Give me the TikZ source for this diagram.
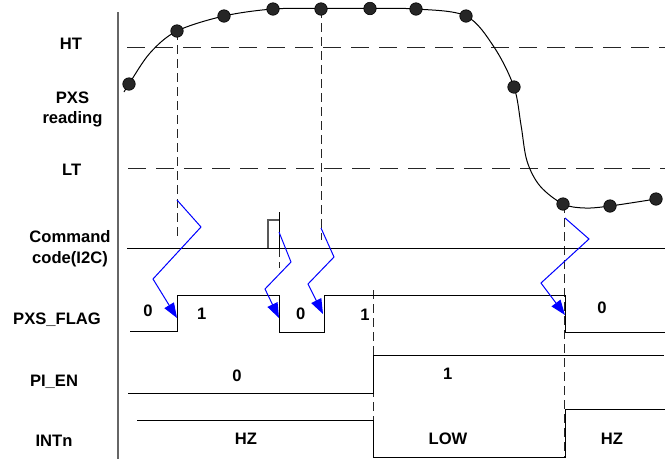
\documentclass[tikz,border=0pt]{standalone}
\usepackage{fontspec}
\setmainfont{Liberation Sans}
\usetikzlibrary{arrows.meta}
\tikzset{
  sig/.style={line width=1pt, black},
  thr/.style={line width=1pt, black!85, dash pattern=on 18pt off 10pt},
  guide/.style={line width=1pt, black!85, dash pattern=on 9pt off 5pt},
  trig/.style={blue, line width=1pt, line join=miter, -{Triangle[length=15pt,width=11pt]}},
  sample/.style={circle, fill=black!85, draw=black, line width=0.6pt, inner sep=0pt, minimum size=12.5pt},
  lbl/.style={font=\bfseries\fontsize{16.6}{20.5}\selectfont, anchor=base, inner sep=0pt},
}
\begin{document}
\begin{tikzpicture}[x=1pt,y=-1pt]
\useasboundingbox (0,0) rectangle (665,459);

% axis
\draw[line width=1.6pt, black!60] (118,12) -- (118,459);

% row labels
\node[lbl] (lht) at (71,49.3) {HT};
\node[lbl] (lpxs) at (72.5,103.3) {PXS};
\node[lbl] (lread) at (72.5,123.3) {reading};
\node[lbl] (llt) at (71.7,175) {LT};
\node[lbl] (lcmd) at (70,242.7) {Command};
\node[lbl] (lcode) at (70,263.7) {code(I2C)};
\node[lbl] (lflag) at (57,324) {PXS\_FLAG};
\node[lbl] (lpien) at (54,386) {PI\_EN};
\node[lbl] (lint) at (54,446.7) {INTn};

% thresholds
\draw[thr] (127,47) -- (665,47);
\draw[thr] (128,168) -- (665,168);

% sample points
\coordinate (d1) at (129,84);
\coordinate (d2) at (177,31);
\coordinate (d3) at (224,16);
\coordinate (d4) at (273,9);
\coordinate (d5) at (321,9);
\coordinate (d6) at (370,8.5);
\coordinate (d7) at (416,9);
\coordinate (d8) at (466,16);
\coordinate (d9) at (514,87);
\coordinate (d10) at (563,204);
\coordinate (d11) at (610,206);
\coordinate (d12) at (656,199);

% reading curve
\draw[sig] plot[smooth, tension=0.55] coordinates {(124,92) (129,84) (150,53) (177,31) (224,16) (273,9) (321,8.5) (370,8.5) (416,9) (466,16) (494,47) (514,87) (521,125) (527,161) (540,186) (563,204) (585,208) (610,206) (656,199)};

% guide lines
\coordinate (g1) at (177,237);
\coordinate (g2) at (321,240);
\draw[guide] (d2) -- (g1);
\draw[guide] (d5) -- (g2);
\draw[guide] (279,248) -- (279,268);
\draw[guide] (373,290) -- (373,457);
\draw[guide] (564,204) -- (564,457);

% command line and pulse
\draw[sig] (127,248) -- (665,248);
\draw[line width=1.4pt, black!65] (268,248) -- (268,220) -- (279,220);
\draw[sig] (279,212) -- (279,248);

% PXS_FLAG
\draw[sig] (130,331) -- (177,331) -- (177,295) -- (279,295) -- (279,332) -- (324,332) -- (324,295) -- (565,295) -- (565,332) -- (665,332);
% PI_EN
\draw[sig] (128,393) -- (373,393) -- (373,355) -- (664,355);
% INTn
\draw[sig] (137,420) -- (373,420) -- (373,457) -- (565,457) -- (565,409) -- (665,409);

% trigger arrows
\draw[trig] (177,200) -- (201,227) -- (153,279) -- (177,318);
\draw[trig] (279,232) -- (291,262) -- (265,289) -- (279,318);
\draw[trig] (321,228) -- (334,257) -- (308,284) -- (323,314);
\draw[trig] (565,218) -- (589,239) -- (541,283) -- (565,315);

% dots
\foreach \i in {1,...,12} \node[sample] (s\i) at (d\i) {};

% values
\node[lbl] (v1) at (148,316.7) {0};
\node[lbl] (v2) at (201.7,319) {1};
\node[lbl] (v3) at (300.8,319) {0};
\node[lbl] (v4) at (365,320) {1};
\node[lbl] (v5) at (602,313) {0};
\node[lbl] (v6) at (237,381.7) {0};
\node[lbl] (v7) at (447.7,379) {1};
\node[lbl] (v8) at (246,444) {HZ};
\node[lbl] (v9) at (448,444) {LOW};
\node[lbl] (v10) at (612,444) {HZ};
\end{tikzpicture}
\end{document}
